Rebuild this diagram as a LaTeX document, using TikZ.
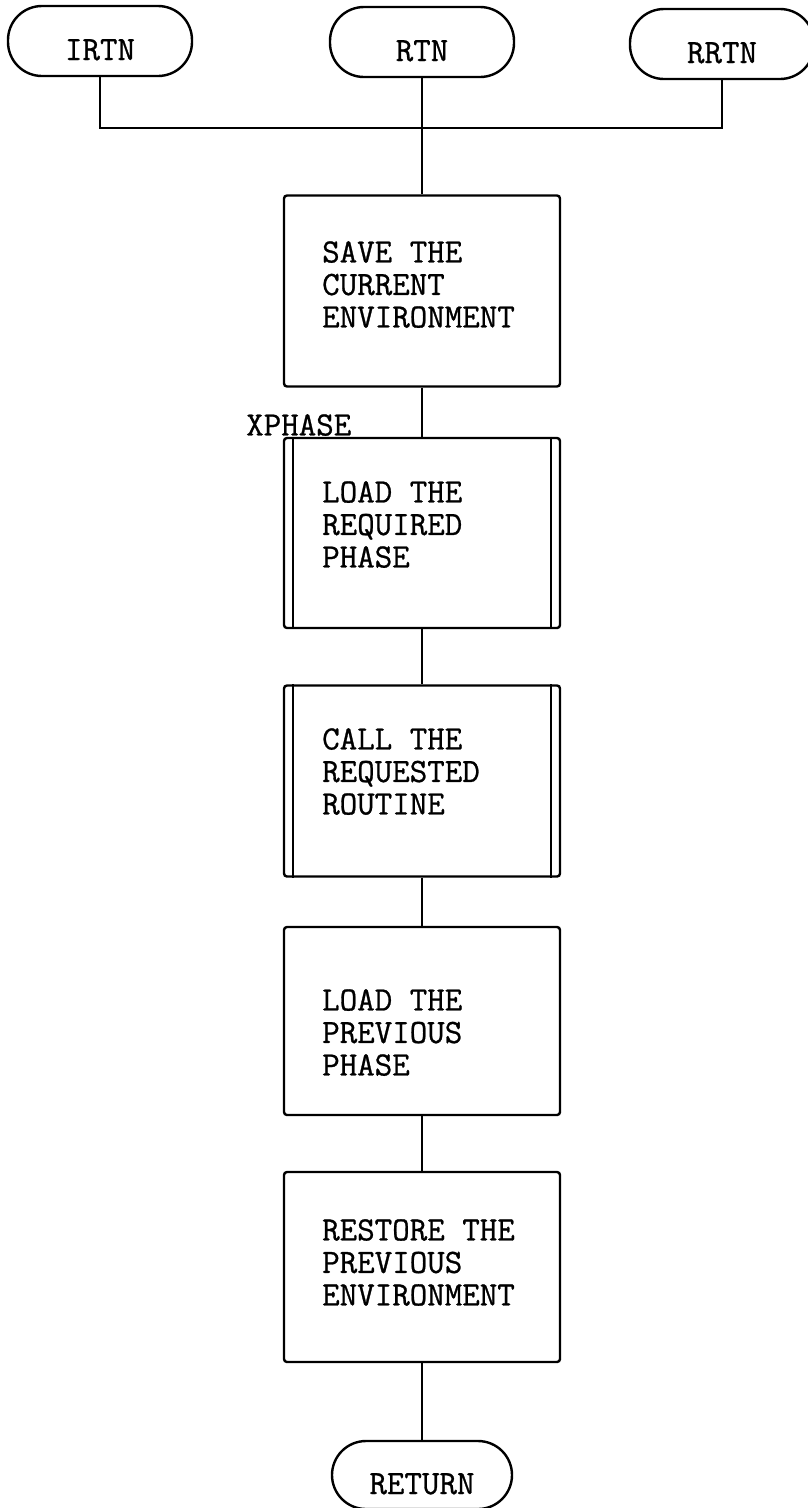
\documentclass[tikz,border=0pt]{standalone}
\usepackage{fontspec}
\newfontfamily\typew{Latin Modern Mono}[FakeBold=0.8]
\begin{document}
\begin{tikzpicture}[x=1pt,y=-1pt,
  line width=2.4pt,
  txt/.style={font=\typew\fontsize{34}{32.5}\selectfont, inner sep=0pt, align=left},
  term/.style={draw, rounded corners=34pt, minimum width=184pt, minimum height=70pt,
    inner sep=0pt, text height=38pt, text depth=0pt,
    font=\typew\fontsize{34}{32.5}\selectfont},
  procbox/.style={draw, rounded corners=3pt, minimum width=276pt, minimum height=191pt, inner sep=0pt},
  predef/.style={line width=2.4pt}
]
\useasboundingbox (0,0) rectangle (808,1508);

% terminals
\node[term] (irtn) at (100,41) {IRTN};
\node[term] (rtn) at (422,42) {RTN};
\node[term] (rrtn) at (722,44) {RRTN};

% process boxes
\node[procbox] (b1) at (422,291) {};
\node[procbox, minimum height=190pt] (b2) at (422,533) {};
\node[procbox] (b3) at (422,781) {};
\node[procbox, minimum height=188pt] (b4) at (422,1021) {};
\node[procbox, minimum height=190pt] (b5) at (422,1267) {};
\node[term, minimum width=180pt, minimum height=68pt] (ret) at (422,1475) {RETURN};

% predefined-process side bars
\draw[predef] ([xshift=10pt]b2.north west) -- ([xshift=10pt]b2.south west);
\draw[predef] ([xshift=-10pt]b2.north east) -- ([xshift=-10pt]b2.south east);
\draw[predef] ([xshift=10pt]b3.north west) -- ([xshift=10pt]b3.south west);
\draw[predef] ([xshift=-10pt]b3.north east) -- ([xshift=-10pt]b3.south east);

% texts
\node[txt, anchor=north west] (t1) at (321,240) {SAVE THE\\CURRENT\\ENVIRONMENT};
\node[txt, anchor=north west] (t2) at (321,480) {LOAD THE\\REQUIRED\\PHASE};
\node[txt, anchor=north west] (t3) at (321,727) {CALL THE\\REQUESTED\\ROUTINE};
\node[txt, anchor=north west] (t4) at (321,988) {LOAD THE\\PREVIOUS\\PHASE};
\node[txt, anchor=north west] (t5) at (321,1218) {RESTORE THE\\PREVIOUS\\ENVIRONMENT};
\node[txt, anchor=north west] (xp) at (245,413) {XPHASE};

% connectors
\coordinate (j) at (422,128);
\draw (irtn.south) |- (j);
\draw (rrtn.south) |- (j);
\draw (rtn.south) -- (b1.north);
\draw (b1.south) -- (b2.north);
\draw (b2.south) -- (b3.north);
\draw (b3.south) -- (b4.north);
\draw (b4.south) -- (b5.north);
\draw (b5.south) -- (ret.north);
\end{tikzpicture}
\end{document}
